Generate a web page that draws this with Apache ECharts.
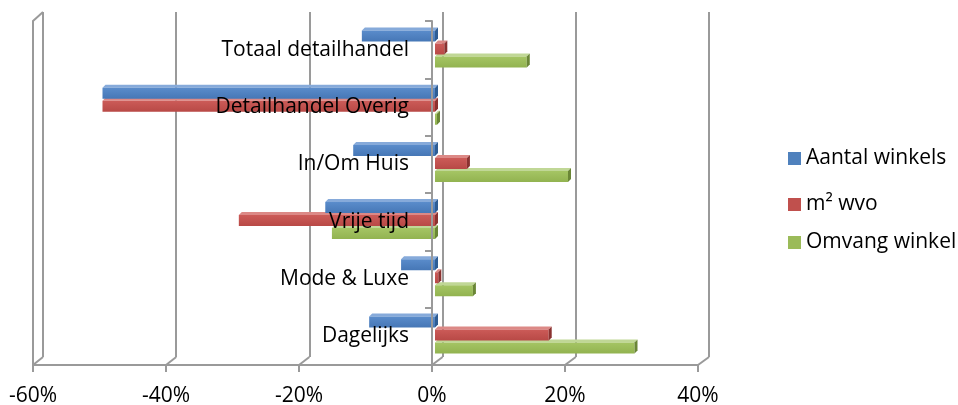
<!DOCTYPE html>
<html>
<head>
<meta charset="utf-8">
<script src="https://cdn.jsdelivr.net/npm/echarts@6/dist/echarts.min.js"></script>
<style>html,body{margin:0;padding:0;background:#fff;}#c{width:958px;height:405px;}</style>
</head>
<body>
<div id="c"></div>
<script>
const categories = ['Totaal detailhandel', 'Detailhandel Overig', 'In/Om Huis', 'Vrije tijd', 'Mode & Luxe', 'Dagelijks'];
const seriesNames = ['Aantal winkels', 'm² wvo', 'Omvang winkel'];
const aantalWinkels = [-11, -50, -12.3, -16.5, -5.1, -9.9];
const m2Wvo = [1.4, -50, 4.8, -29.5, 0.5, 17.1];
const omvangWinkel = [13.8, 0.3, 20, -15.5, 5.7, 30];
const xMin = -60, xMax = 40, xStep = 20;

const FONT = '"Open Sans", sans-serif';
const FS = 21;
const palettes = [
  {front: ['#5A8CCB', '#4677B6'], top: '#86AADA', side: '#2F5D93', legend: '#4F81BD'},
  {front: ['#CC5B58', '#B84946'], top: '#DC8986', side: '#8A3230', legend: '#C0504D'},
  {front: ['#A5C564', '#92B350'], top: '#C0D796', side: '#6A8636', legend: '#9BBB59'}
];
const values = [aantalWinkels, m2Wvo, omvangWinkel];

function makeRender(k) {
  const pal = palettes[k];
  return function (params, api) {
    const v = api.value(0), ci = api.value(1);
    const p0 = api.coord([0, ci]);
    const p1 = api.coord([v, ci]);
    const d = 3, h = 11;
    const topY = p0[1] + (k - 1) * 13 - 7;
    const yf = topY + d;
    const xl = Math.min(p0[0], p1[0]);
    const xr = Math.max(p0[0], p1[0]);
    return {
      type: 'group',
      children: [
        {type: 'polygon', shape: {points: [[xl + d, topY], [xr + d, topY], [xr, yf], [xl, yf]]}, style: {fill: pal.top}},
        {type: 'rect', shape: {x: xl, y: yf, width: Math.max(xr - xl, 0.5), height: h},
          style: {fill: new echarts.graphic.LinearGradient(0, 0, 0, 1, [{offset: 0, color: pal.front[0]}, {offset: 1, color: pal.front[1]}])}},
        {type: 'polygon', shape: {points: [[xr, yf], [xr + d, topY], [xr + d, topY + h], [xr, yf + h]]}, style: {fill: pal.side}}
      ]
    };
  };
}

const chart = echarts.init(document.getElementById('c'), null, {renderer: 'canvas'});
const gridLine = '#9A9A9A';
const noBounds = {containLabel: false, outerBoundsMode: 'none'};

const option = {
  animation: false,
  backgroundColor: '#fff',
  grid: [
    Object.assign({left: 33, right: 260, top: 21, bottom: 40}, noBounds),   // front floor / wall
    Object.assign({left: 36, right: 257, top: 19, bottom: 43}, noBounds),   // bars
    Object.assign({left: 43, right: 249, top: 12, bottom: 48}, noBounds),   // back wall
    Object.assign({left: 432, right: 260, top: 21, bottom: 40}, noBounds)   // category axis at zero
  ],
  xAxis: [
    {type: 'value', gridIndex: 0, min: xMin, max: xMax, interval: xStep,
      axisLine: {show: true, onZero: false, lineStyle: {color: gridLine, width: 2}},
      axisTick: {show: true, length: 7, lineStyle: {color: gridLine, width: 2}},
      axisLabel: {formatter: '{value}%', margin: 21, color: '#000', fontSize: FS, fontFamily: FONT},
      splitLine: {show: false}},
    {type: 'value', gridIndex: 1, min: xMin, max: xMax, interval: xStep, show: false},
    {type: 'value', gridIndex: 2, min: xMin, max: xMax, interval: xStep,
      axisLine: {show: false}, axisTick: {show: false}, axisLabel: {show: false},
      splitLine: {show: true, lineStyle: {color: gridLine, width: 2}}},
    {type: 'value', gridIndex: 3, min: 0, max: xMax, show: false}
  ],
  yAxis: [
    {type: 'category', gridIndex: 3, data: categories, inverse: true, z: 10, position: 'left',
      axisLine: {show: true, onZero: false, lineStyle: {color: gridLine, width: 2}},
      axisTick: {show: true, length: 7, lineStyle: {color: gridLine, width: 2}},
      axisLabel: {color: '#000', fontSize: FS, fontFamily: FONT, margin: 23, padding: [3, 0, 0, 0]}},
    {type: 'category', gridIndex: 0, data: categories, inverse: true, position: 'left', z: 10,
      axisLine: {show: true, onZero: false, lineStyle: {color: gridLine, width: 2}},
      axisTick: {show: false}, axisLabel: {show: false}},
    {type: 'category', gridIndex: 1, data: categories, inverse: true, show: false},
    {type: 'value', gridIndex: 2, show: false}
  ],
  legend: seriesNames.map((n, i) => ({
    data: [n], orient: 'vertical', left: 788, top: [148, 194, 232][i], padding: 0,
    icon: 'rect', itemWidth: 13, itemHeight: 13, itemGap: 6,
    textStyle: {color: '#000', fontSize: FS, fontFamily: FONT}
  })),
  series: seriesNames.map((n, k) => ({
    name: n, type: 'custom', xAxisIndex: 1, yAxisIndex: 2, z: 5 - k,
    itemStyle: {color: palettes[k].legend},
    encode: {x: 0, y: 1},
    renderItem: makeRender(k),
    data: values[k].map((v, i) => [v, i])
  }))
};
chart.setOption(option);

// 3D frame connectors derived from the front and back axes
const ticks = [];
for (let t = xMin; t <= xMax; t += xStep) ticks.push(t);
const g = [];
const fy = 405 - 40, by = 405 - 48, fTop = 21, bTop = 12;
ticks.forEach(t => {
  const xf = chart.convertToPixel({xAxisIndex: 0}, t);
  const xb = chart.convertToPixel({xAxisIndex: 2}, t);
  g.push({type: 'line', shape: {x1: xf, y1: fy, x2: xb, y2: by}, style: {stroke: gridLine, lineWidth: 2}, z: 1});
});
const xf0 = chart.convertToPixel({xAxisIndex: 0}, xMin);
const xb0 = chart.convertToPixel({xAxisIndex: 2}, xMin);
g.push({type: 'line', shape: {x1: xf0, y1: fTop, x2: xb0, y2: bTop}, style: {stroke: gridLine, lineWidth: 2}, z: 1});
chart.setOption({graphic: g});
</script>
</body>
</html>
